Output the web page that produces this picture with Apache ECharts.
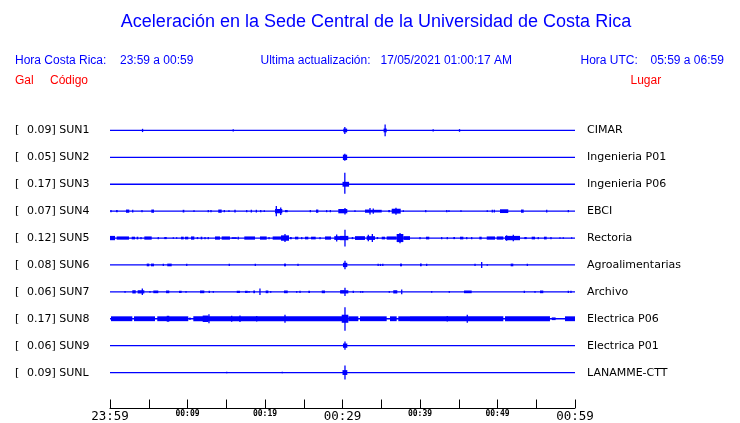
<!DOCTYPE html>
<html><head><meta charset="utf-8">
<script src="https://cdn.jsdelivr.net/npm/echarts@6/dist/echarts.min.js"></script>
<style>html,body{margin:0;padding:0;background:#fff}#c{width:740px;height:423px}</style>
</head><body><div id="c"></div>
<script>
// ---- data ----
const gal = ['0.09','0.05','0.17','0.07','0.12','0.08','0.06','0.17','0.06','0.09'];
const codes = ['SUN1','SUN2','SUN3','SUN4','SUN5','SUN6','SUN7','SUN8','SUN9','SUNL'];
const places = ['CIMAR','Ingenieria P01','Ingenieria P06','EBCI','Rectoria','Agroalimentarias','Archivo','Electrica P06','Electrica P01','LANAMME-CTT'];
const tickMinutes = [0,10,20,30,40,50,60];
const tickLabels = ['23:59','00:09','00:19','00:29','00:39','00:49','00:59'];
const majorTicks = ['23:59','00:29','00:59'];
// events: [startMinute, endMinute, amplitudeUp, amplitudeDown?] (amplitude in row-spacing units)
const sun1 = [[4.2,4.2,0.06],[15.9,15.9,0.04],[30.1,30.6,0.07],[30.3,30.3,0.13],[35.3,35.7,0.07],[35.5,35.5,0.22],[41.7,41.7,0.04],[45.1,45.1,0.05]];
const sun2 = [[30.05,30.6,0.1],[30.3,30.3,0.13]];
const sun3 = [[30.0,30.85,0.09],[30.3,30.3,0.43,0.35]];
const sun4 = [[0.13,0.13,0.04],[0.77,1.0,0.04],[2.06,2.49,0.06],[2.93,2.93,0.05],[4.13,4.13,0.04],[5.33,5.68,0.06],[9.38,9.59,0.05],[10.84,10.84,0.03],[12.68,12.68,0.04],[13.03,13.03,0.04],[13.97,14.41,0.06],[14.75,14.75,0.04],[15.35,15.35,0.03],[16.04,16.22,0.05],[17.64,17.64,0.04],[18.15,18.32,0.05],[18.8,18.97,0.05],[19.45,19.45,0.04],[19.91,19.91,0.03],[21.29,22.23,0.08],[21.46,21.46,0.19],[22.03,22.03,0.14],[22.58,22.93,0.04],[25.85,25.85,0.04],[26.58,26.88,0.06],[27.87,28.04,0.04],[28.43,28.43,0.04],[29.46,30.62,0.08],[30.32,30.32,0.12],[31.61,31.61,0.03],[32.9,33.55,0.06],[33.55,33.55,0.12],[33.55,35.06,0.05],[33.97,33.97,0.1],[35.9,36.13,0.04],[36.35,37.51,0.09],[36.9,36.9,0.13],[37.85,37.85,0.03],[40.74,40.74,0.04],[43.45,43.45,0.04],[43.74,43.74,0.03],[45.29,45.29,0.03],[48.68,48.68,0.03],[49.33,49.33,0.05],[49.59,49.59,0.05],[50.32,51.39,0.07],[53.03,53.38,0.06],[56.35,56.35,0.05],[59.14,59.14,0.04]];
const sun5 = [[0,0.65,0.08],[0.86,2.45,0.06],[2.8,3.23,0.05],[3.44,3.65,0.05],[4.0,4.0,0.04],[4.43,5.38,0.06],[6.23,6.23,0.04],[7.0,7.32,0.04],[8.17,8.17,0.03],[8.6,8.6,0.03],[9.16,9.51,0.05],[9.68,10.1,0.05],[10.45,10.88,0.06],[11.19,11.39,0.04],[11.7,11.91,0.05],[12.26,12.26,0.04],[12.68,12.68,0.04],[13.55,14.19,0.06],[14.41,15.48,0.06],[15.7,16.35,0.03],[16.55,16.55,0.05],[17.33,18.71,0.06],[19.35,20.22,0.06],[20.52,20.52,0.04],[20.99,22.06,0.06],[22.06,23.1,0.1],[22.58,22.58,0.15],[23.23,23.45,0.04],[23.87,24.3,0.05],[24.74,24.74,0.04],[25.16,25.59,0.05],[25.94,26.54,0.05],[27.1,27.1,0.04],[27.74,28.52,0.06],[28.94,29.68,0.07],[29.25,29.25,0.13],[29.68,30.75,0.08],[30.32,30.32,0.31],[31.19,31.39,0.04],[31.61,32.9,0.07],[33.12,34.19,0.07],[33.33,33.33,0.12],[33.85,33.85,0.15],[34.41,34.61,0.04],[35.06,35.48,0.05],[35.7,36.99,0.06],[36.99,37.85,0.15],[37.42,37.42,0.19],[37.85,38.71,0.07],[40.0,40.0,0.04],[40.77,41.2,0.05],[42.8,42.8,0.04],[43.52,43.52,0.04],[44.3,44.52,0.04],[45.16,45.59,0.05],[46.03,46.03,0.04],[46.67,46.67,0.04],[47.65,47.96,0.05],[48.61,49.68,0.06],[49.9,50.75,0.06],[50.97,52.9,0.08],[51.18,51.18,0.1],[52.04,52.04,0.12],[53.46,53.77,0.04],[54.41,54.84,0.05],[55.26,55.26,0.04],[56.0,56.35,0.05],[56.9,56.9,0.04],[58.06,58.06,0.03],[58.49,58.49,0.03],[59.57,59.57,0.03]];
const sun6 = [[4.74,5.07,0.05],[5.29,5.68,0.05],[6.88,6.88,0.04],[7.39,7.96,0.05],[9.9,9.9,0.04],[15.39,15.39,0.04],[18.75,18.75,0.04],[22.45,22.71,0.05],[24.26,24.26,0.04],[30.06,30.62,0.08],[30.32,30.32,0.16],[34.6,34.6,0.04],[34.9,34.9,0.04],[35.2,35.2,0.04],[37.42,37.68,0.05],[40.0,40.22,0.05],[40.86,40.86,0.04],[47.1,47.1,0.04],[47.96,47.96,0.11],[48.68,48.68,0.03],[51.7,52.04,0.05],[53.85,53.85,0.04]];
const sun7 = [[1.94,1.94,0.03],[2.88,3.32,0.06],[3.57,4.43,0.06],[4.17,4.17,0.12],[5.16,5.16,0.03],[5.59,6.23,0.05],[7.23,7.65,0.05],[8.9,9.25,0.04],[9.81,9.81,0.03],[11.61,12.17,0.05],[12.81,12.81,0.04],[13.33,13.33,0.03],[16.35,16.77,0.04],[17.42,17.77,0.04],[17.94,17.94,0.03],[18.49,18.71,0.05],[19.35,19.35,0.12],[20.09,20.43,0.05],[20.74,20.74,0.03],[22.45,22.93,0.05],[24.09,24.09,0.03],[24.52,24.52,0.04],[25.59,25.81,0.04],[27.32,27.74,0.05],[29.81,30.23,0.05],[29.68,30.75,0.06],[30.32,30.32,0.15],[31.39,31.39,0.04],[32.35,32.35,0.03],[32.61,32.61,0.03],[36.04,36.04,0.03],[36.55,37.07,0.06],[37.64,37.64,0.09],[41.51,41.51,0.03],[43.78,43.78,0.03],[45.68,46.67,0.05],[53.46,53.46,0.04],[54.84,54.84,0.03],[55.48,55.91,0.05],[59.14,59.14,0.04],[59.48,59.48,0.04]];
const sun8 = [[0.13,2.88,0.09],[3.1,5.81,0.09],[6.1,10.1,0.09],[7.32,7.65,0.11],[10.32,10.32,0.05],[10.75,30.32,0.09],[11.96,12.68,0.12],[12.77,12.77,0.17],[15.7,15.7,0.11],[16.77,16.77,0.12],[18.93,18.93,0.1],[22.58,22.58,0.15],[29.9,30.75,0.15],[30.32,30.32,0.43,0.45],[30.75,32.04,0.09],[32.26,35.7,0.09],[36.13,36.99,0.09],[37.2,38.71,0.09],[38.71,50.75,0.09],[43.52,43.52,0.1],[46.1,46.1,0.15],[50.97,56.77,0.09],[57.0,57.5,0.05],[58.71,60,0.09]];
const sun9 = [[30.06,30.62,0.08],[30.32,30.32,0.15]];
const sunl = [[15.06,15.06,0.03],[22.23,22.23,0.03],[30.0,30.62,0.09],[30.32,30.32,0.26]];
const traces = [sun1,sun2,sun3,sun4,sun5,sun6,sun7,sun8,sun9,sunl];

// ---- chart ----
const BLUE = '#0000ff', RED = '#ff0000';
const chart = echarts.init(document.getElementById('c'), null, {renderer:'canvas'});
const GRID = {left:110, right:165, top:117, bottom:36};
const rowY = k => GRID.top + 13.5 + 27*k;

const eventData = [];
traces.forEach((ev, k) => ev.forEach(e => eventData.push([k, e[0], e[1], e[2], e.length > 3 ? e[3] : e[2]])));

const series = codes.map((c, k) => ({
  type:'line', data:[[0,k],[60,k]], symbol:'none', silent:true,
  lineStyle:{color:BLUE, width:1.3}, animation:false
}));
series.push({
  type:'custom', data:eventData, clip:false, animation:false, silent:true,
  encode:{x:[1,2], y:0},
  renderItem(params, api){
    const k = api.value(0), t0 = api.value(1), t1 = api.value(2), up = api.value(3), dn = api.value(4);
    const a = api.coord([t0, k - up]);
    const b = api.coord([t1, k + dn]);
    let x = Math.min(a[0], b[0]), w = Math.abs(b[0]-a[0]);
    if (w < 1.3) { x = (a[0]+b[0])/2 - 0.65; w = 1.3; }
    return {type:'rect', shape:{x:x, y:Math.min(a[1],b[1]), width:w, height:Math.abs(b[1]-a[1])}, style:{fill:BLUE}};
  }
});

const graphics = [];
const txt = (x, y, text, font, fill, align) => graphics.push({type:'text', x:0, y:0, silent:true,
  style:{x:x, y:y, text:text, font:font, fill:fill, align:align||'left', verticalAlign:'middle'}});
const HF = '12px "Liberation Sans", Arial, sans-serif';
const LF = '11px "DejaVu Sans", sans-serif';
txt(376, 22, 'Aceleración en la Sede Central de la Universidad de Costa Rica', '18px "Liberation Sans", Arial, sans-serif', BLUE, 'center');
txt(15, 61, 'Hora Costa Rica:', HF, BLUE);
txt(120, 61, '23:59 a 00:59', HF, BLUE);
txt(260.5, 61, 'Ultima actualización:', HF, BLUE);
txt(380.5, 61, '17/05/2021 01:00:17 AM', HF, BLUE);
txt(580.5, 61, 'Hora UTC:', HF, BLUE);
txt(650.5, 61, '05:59 a 06:59', HF, BLUE);
txt(15, 81, 'Gal', HF, RED);
txt(50, 81, 'Código', HF, RED);
txt(630.5, 81, 'Lugar', HF, RED);
codes.forEach((c, k) => {
  txt(15, rowY(k), '[', LF, '#000');
  txt(27, rowY(k), gal[k] + '] ' + c, LF, '#000');
  txt(587, rowY(k), places[k], LF, '#000');
});

chart.setOption({
  animation:false,
  grid: GRID,
  xAxis:{type:'value', min:0, max:60, interval:5, position:'bottom', offset:22,
    axisLine:{show:true, onZero:false, lineStyle:{color:'#000', width:1}},
    axisTick:{show:true, inside:true, length:8.5, lineStyle:{color:'#000', width:1}},
    splitLine:{show:false},
    axisLabel:{show:true, margin:2, showMinLabel:true, showMaxLabel:true,
      formatter(v){
        const i = tickMinutes.indexOf(v);
        if (i < 0) return '';
        const s = tickLabels[i];
        return majorTicks.indexOf(s) >= 0 ? '{b|' + s + '}' : '{s|' + s + '}';
      },
      rich:{
        b:{fontFamily:'"DejaVu Sans Mono", monospace', fontSize:12.5, color:'#000'},
        s:{fontFamily:'"DejaVu Sans Mono", monospace', fontSize:8, fontWeight:'bold', color:'#000'}
      }}
  },
  yAxis:{type:'value', min:-0.5, max:9.5, inverse:true, show:false},
  series: series,
  graphic: graphics
});
</script></body></html>
